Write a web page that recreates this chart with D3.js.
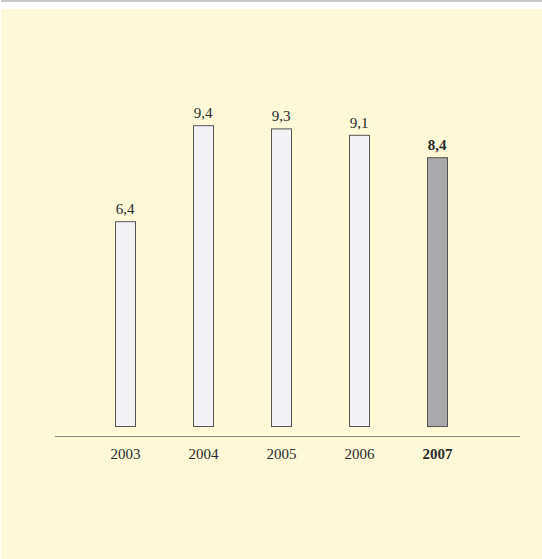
<!DOCTYPE html>
<html><head><meta charset="utf-8">
<script src="https://cdn.jsdelivr.net/npm/d3@7"></script>
<style>html,body{margin:0;padding:0;background:#fff;}svg{display:block;}</style>
</head><body>
<svg id="c" width="542" height="559"></svg>
<script>
const years = ["2003","2004","2005","2006","2007"];
const values = [6.4, 9.4, 9.3, 9.1, 8.4];
const labels = ["6,4","9,4","9,3","9,1","8,4"];
const highlight = "2007";

const svg = d3.select("#c");
svg.append("rect").attr("x",1).attr("y",0).attr("width",541).attr("height",2).attr("fill","#cacaca");
svg.append("rect").attr("x",1).attr("y",9).attr("width",541).attr("height",550).attr("fill","#fdf8d5");

const x = d3.scalePoint().domain(years).range([125, 437]);
const y = d3.scaleLinear().domain([0, 10]).range([426, 106]);
const bw = 20;
const font = "'Liberation Serif', 'DejaVu Serif', serif";

svg.selectAll("rect.bar").data(years).enter().append("rect")
  .attr("class","bar")
  .attr("x", d => x(d) - bw/2 + 0.5)
  .attr("y", (d,i) => y(values[i]) + 0.5)
  .attr("width", bw)
  .attr("height", (d,i) => y(0) - y(values[i]))
  .attr("fill", d => d === highlight ? "#a9a9ab" : "#f2f2f4")
  .attr("stroke", "#555")
  .attr("stroke-width", 1);

svg.selectAll("text.val").data(years).enter().append("text")
  .attr("class","val")
  .attr("x", d => x(d))
  .attr("y", (d,i) => y(values[i]) - 7)
  .attr("text-anchor","middle")
  .attr("font-family", font)
  .attr("font-size", 15)
  .attr("font-weight", d => d === highlight ? "bold" : "normal")
  .attr("fill","#2a2a2a")
  .text((d,i) => labels[i]);

const axis = d3.axisBottom(x).tickSize(0).tickPadding(12);
const g = svg.append("g").attr("transform","translate(0,436)").call(axis);
g.select(".domain").remove();
g.append("line").attr("x1",55).attr("x2",520).attr("y1",0.5).attr("y2",0.5).attr("stroke","#888").attr("stroke-width",1);
g.selectAll(".tick text")
  .attr("font-family", font)
  .attr("font-size", 15)
  .attr("fill","#2a2a2a")
  .attr("font-weight", d => d === highlight ? "bold" : "normal");
</script>
</body></html>
